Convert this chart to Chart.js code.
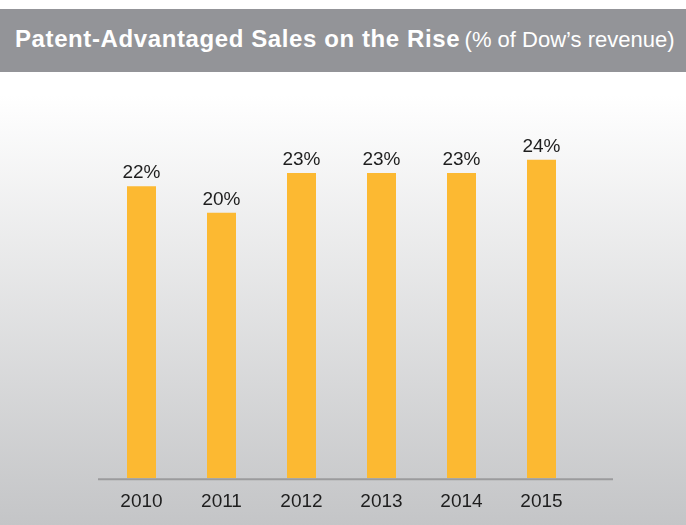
<!DOCTYPE html>
<html>
<head>
<meta charset="utf-8">
<script src="https://cdn.jsdelivr.net/npm/chart.js@4"></script>
<style>
  html, body { margin: 0; padding: 0; }
  body {
    width: 686px; height: 525px; overflow: hidden; position: relative;
    background: linear-gradient(to bottom, #ffffff 0px, #ffffff 95px, #c4c5c7 525px);
    font-family: "Liberation Sans", Arial, sans-serif;
  }
  #titleBar {
    position: absolute; left: 0; top: 9px; width: 686px; height: 63px;
    background: #939498; color: #fff; white-space: nowrap;
    line-height: 59px; padding-left: 15px; box-sizing: border-box;
  }
  #titleBar b { font-size: 24px; letter-spacing: 0.6px; font-weight: bold; }
  #titleBar span { font-size: 22px; }
  #chartBox { position: absolute; left: 0; top: 0; width: 686px; height: 525px; }
</style>
</head>
<body>
<div id="titleBar"><b>Patent-Advantaged Sales on the Rise</b> <span>(% of Dow’s revenue)</span></div>
<div id="chartBox"><canvas id="salesChart" width="686" height="525"></canvas></div>
<script>
const years = ['2010', '2011', '2012', '2013', '2014', '2015'];
const revenueShare = [22, 20, 23, 23, 23, 24];

// labels above bars + the long base line
const barLabels = {
    id: 'barLabels',
    afterDatasetsDraw(chart) {
        const ctx = chart.ctx;
        const meta = chart.getDatasetMeta(0);
        ctx.save();
        ctx.font = '19px "Liberation Sans", Arial, sans-serif';
        ctx.fillStyle = '#1e1e1e';
        ctx.textAlign = 'center';
        ctx.textBaseline = 'alphabetic';
        meta.data.forEach((bar, i) => {
            ctx.fillText(revenueShare[i] + '%', bar.x, bar.y - 8);
        });
        const y0 = chart.scales.y.getPixelForValue(0);
        ctx.strokeStyle = '#9b9b9d';
        ctx.lineWidth = 2;
        ctx.beginPath();
        ctx.moveTo(98, y0 + 1);
        ctx.lineTo(613, y0 + 1);
        ctx.stroke();
        ctx.restore();
    }
};

const ctx = document.getElementById('salesChart').getContext('2d');
new Chart(ctx, {
    type: 'bar',
    data: {
        labels: years,
        datasets: [{
            data: revenueShare,
            backgroundColor: '#fcb932',
            categoryPercentage: 1,
            barPercentage: 0.3625
        }]
    },
    options: {
        responsive: false,
        animation: false,
        layout: { padding: { left: 101.5, right: 104.5, top: 80, bottom: 0 } },
        plugins: { legend: { display: false }, tooltip: { enabled: false } },
        scales: {
            x: {
                grid: { display: false, drawTicks: false },
                border: { display: false },
                ticks: {
                    color: '#1e1e1e',
                    padding: 12,
                    font: { family: '"Liberation Sans", Arial, sans-serif', size: 19 }
                }
            },
            y: { display: false, min: 0, max: 30 }
        }
    },
    plugins: [barLabels]
});
</script>
</body>
</html>
